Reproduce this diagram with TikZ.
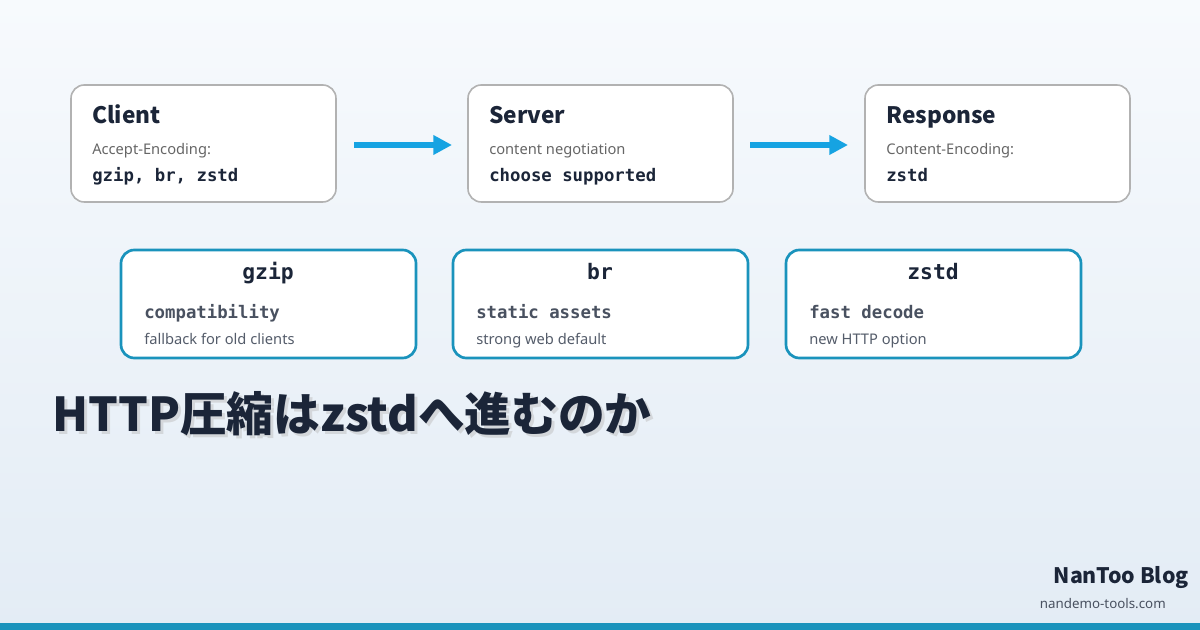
\documentclass[tikz,border=0pt]{standalone}
\usepackage{fontspec}
\usetikzlibrary{arrows.meta}
\setmainfont{Noto Sans}
\newfontfamily\jp{Noto Sans CJK JP}
\newfontfamily\mono{DejaVu Sans Mono}
\begin{document}
\begin{tikzpicture}[x=0.75pt,y=-0.75pt,inner sep=0pt,
 top/.style={draw=gray!60,line width=1.2pt,fill=white,rounded corners=10pt},
 low/.style={draw=teal2,line width=2pt,fill=white,rounded corners=10pt},
 arr/.style={draw=blue2,line width=4.5pt,-{Triangle[length=14pt,width=14pt]}},
 ttl/.style={anchor=base west,font=\jp\fontsize{17}{20}\selectfont\bfseries,text=navy},
 sm/.style={anchor=base west,font=\fontsize{11}{13}\selectfont,text=gray!80!black},
 mb/.style={anchor=base west,font=\mono\fontsize{13}{15}\selectfont\bfseries,text=navy}]
\definecolor{teal2}{HTML}{1A93BC}\definecolor{blue2}{HTML}{16A3E2}\definecolor{navy}{HTML}{1B2538}
\definecolor{bgt}{HTML}{F7FAFD}\definecolor{bgb}{HTML}{E3ECF5}
\useasboundingbox (0,0) rectangle (1200,630);
\shade[top color=bgt,bottom color=bgb] (0,0) rectangle (1200,630);
\fill[teal2] (0,623) rectangle (1200,630);
\foreach \n/\x/\t/\a/\b in {c/71/Client/Accept-Encoding:/{gzip, br, zstd},s/468/Server/content negotiation/choose supported,r/865/Response/Content-Encoding:/zstd}{
 \draw[top] (\x,85) rectangle ++(265,117);
 \node[ttl] (\n t) at (\x+21,124) {\t};
 \node[sm] (\n a) at (\x+21,155) {\a};
 \node[mb] (\n b) at (\x+21,182) {\b};
}
\coordinate (a1) at (354,145);\coordinate (a2) at (452,145);
\coordinate (a3) at (750,145);\coordinate (a4) at (848,145);
\draw[arr] (a1)--(a2); \draw[arr] (a3)--(a4);
\foreach \n/\x/\t/\a/\b in {g/121/gzip/compatibility/fallback for old clients,b/453/br/static assets/strong web default,z/786/zstd/fast decode/new HTTP option}{
 \draw[low] (\x,250) rectangle ++(295,108);
 \node[anchor=base,font=\mono\fontsize{16}{18}\selectfont\bfseries,text=navy] (\n t) at (\x+147,280) {\t};
 \node[mb,text=navy!80] (\n a) at (\x+23,319) {\a};
 \node[sm,text=navy!75] (\n b) at (\x+23,345) {\b};
}
\node[anchor=base west,font=\jp\fontsize{35}{40}\selectfont\bfseries,text=black!25,opacity=.5] at (55,435) {HTTP圧縮はzstdへ進むのか};
\node[anchor=base west,font=\jp\fontsize{35}{40}\selectfont\bfseries,text=navy] (title) at (52,432) {HTTP圧縮はzstdへ進むのか};
\node[anchor=base east,font=\jp\fontsize{16}{19}\selectfont\bfseries,text=navy] (blog) at (1189,584) {NanToo Blog};
\node[anchor=base east,font=\fontsize{10}{12}\selectfont,text=navy!80] (url) at (1166,609) {nandemo-tools.com};
\end{tikzpicture}
\end{document}
